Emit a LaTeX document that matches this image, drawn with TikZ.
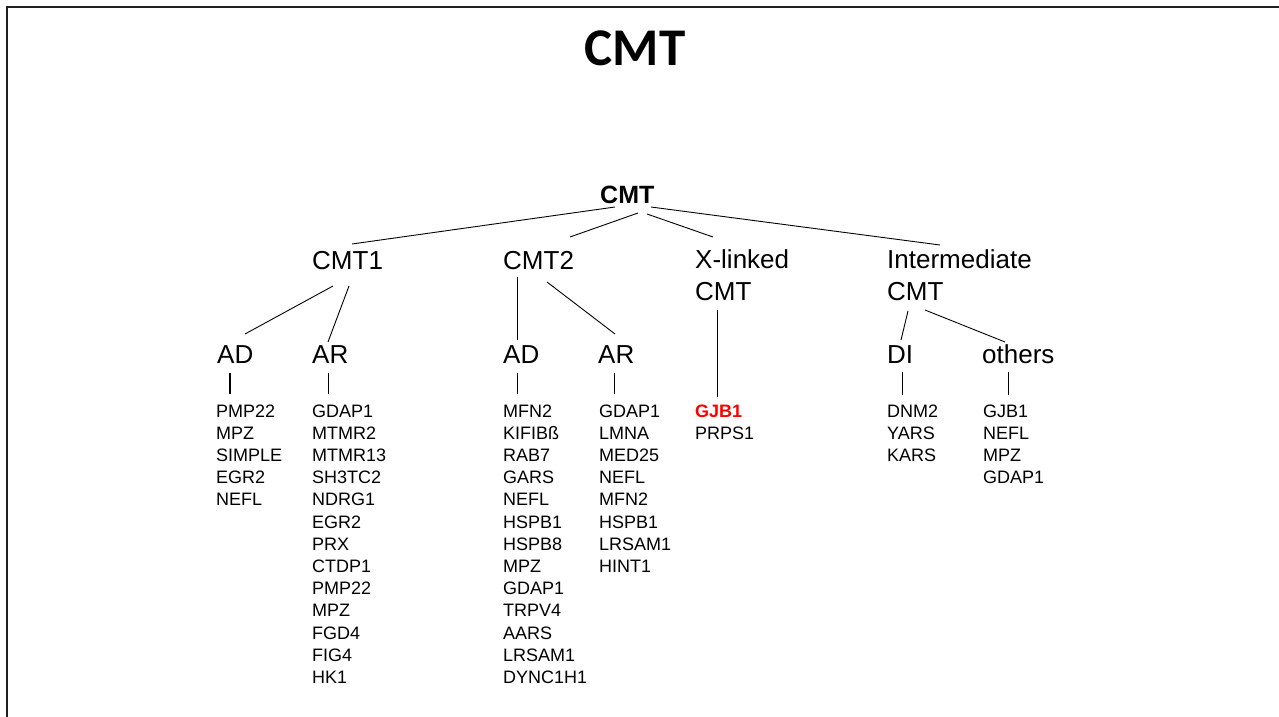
\documentclass[tikz,border=0pt]{standalone}
\usepackage{fontspec}
\usetikzlibrary{calc}
\newfontfamily\arialf{Liberation Sans}
\newfontfamily\calf{Carlito}
\newcommand\glist[1]{\begin{tabular}[t]{@{}l@{}}#1\end{tabular}}
\tikzset{
  lbl/.style={anchor=base west, inner sep=0pt, font=\arialf\fontsize{26}{32}\selectfont},
  genes/.style={anchor=base west, inner sep=0pt, font=\arialf\fontsize{18}{22.2}\selectfont},
  conn/.style={draw=black, line width=0.9pt},
}
\begin{document}
\begin{tikzpicture}[x=1pt,y=-1pt]
\useasboundingbox (0,0) rectangle (1279,717);
% frame
\draw[line width=2.6pt, black!88] (1279,7) -- (7,7) -- (7,717);
% title
\node[anchor=base, inner sep=0pt, font=\calf\bfseries\fontsize{53}{60}\selectfont] (title) at (635,66) {CMT};
% tree labels
\node[anchor=base west, inner sep=0pt, font=\arialf\bfseries\fontsize{25}{30}\selectfont] (root) at (600,203) {CMT};
\node[lbl] (cmt1) at (312,269) {CMT1};
\node[lbl] (cmt2) at (503,269) {CMT2};
\node[lbl] (xl) at (695,268) {\glist{X-linked\\CMT}};
\node[lbl] (int) at (887,268) {\glist{Intermediate\\CMT}};
\node[lbl] (ad1) at (217,363) {AD};
\node[lbl] (ar1) at (312,363) {AR};
\node[lbl] (ad2) at (503,363) {AD};
\node[lbl] (ar2) at (598,363) {AR};
\node[lbl] (di) at (887,363) {DI};
\node[lbl] (oth) at (982,363) {others};
% gene lists
\node[genes] (ad1l) at (216,417) {\glist{PMP22\\MPZ\\SIMPLE\\EGR2\\NEFL}};
\node[genes] (ar1l) at (312,417) {\glist{GDAP1\\MTMR2\\MTMR13\\SH3TC2\\NDRG1\\EGR2\\PRX\\CTDP1\\PMP22\\MPZ\\FGD4\\FIG4\\HK1}};
\node[genes] (ad2l) at (503,417) {\glist{MFN2\\KIFIBß\\RAB7\\GARS\\NEFL\\HSPB1\\HSPB8\\MPZ\\GDAP1\\TRPV4\\AARS\\LRSAM1\\DYNC1H1}};
\node[genes] (ar2l) at (599,417) {\glist{GDAP1\\LMNA\\MED25\\NEFL\\MFN2\\HSPB1\\LRSAM1\\HINT1}};
\node[genes] (xll) at (695,417) {\glist{\textcolor{red}{\bfseries GJB1}\\PRPS1}};
\node[genes] (dil) at (887,417) {\glist{DNM2\\YARS\\KARS}};
\node[genes] (othl) at (983,417) {\glist{GJB1\\NEFL\\MPZ\\GDAP1}};
% connectors
\draw[conn] ($(root.base west)+(15,4)$) -- ($(cmt1.base west)+(40,-25)$);
\draw[conn] ($(root.base west)+(38,10)$) -- ($(cmt2.base west)+(67,-32)$);
\draw[conn] ($(root.base west)+(47,11)$) -- ($(xl.base west)+(18,-31)$);
\draw[conn] ($(root.base west)+(51,4)$) -- ($(int.base west)+(53,-23)$);
\draw[conn] ($(cmt1.base west)+(21,17)$) -- ($(ad1.base west)+(28,-29)$);
\draw[conn] ($(cmt1.base west)+(37,17)$) -- ($(ar1.base west)+(16,-21)$);
\draw[conn] ($(cmt2.base west)+(14,8)$) -- ($(ad2.base west)+(14,-23)$);
\draw[conn] ($(cmt2.base west)+(44,13)$) -- ($(ar2.base west)+(17,-29)$);
\draw[conn] ($(xl.base west)+(22,42)$) -- ($(xll.base west)+(22,-20)$);
\draw[conn] ($(int.base west)+(21,43)$) -- ($(di.base west)+(14,-23)$);
\draw[conn] ($(int.base west)+(38,42)$) -- ($(oth.base west)+(23,-21)$);
\draw[conn, line width=2pt] ($(ad1.base west)+(13,10)$) -- ($(ad1l.base west)+(14,-23)$);
\draw[conn] ($(ar1.base west)+(16,10)$) -- ($(ar1l.base west)+(16,-23)$);
\draw[conn] ($(ad2.base west)+(14,10)$) -- ($(ad2l.base west)+(14,-23)$);
\draw[conn] ($(ar2.base west)+(16,10)$) -- ($(ar2l.base west)+(15,-23)$);
\draw[conn] ($(di.base west)+(15,9)$) -- ($(dil.base west)+(15,-22)$);
\draw[conn] ($(oth.base west)+(26,9)$) -- ($(othl.base west)+(25,-22)$);
\end{tikzpicture}
\end{document}
